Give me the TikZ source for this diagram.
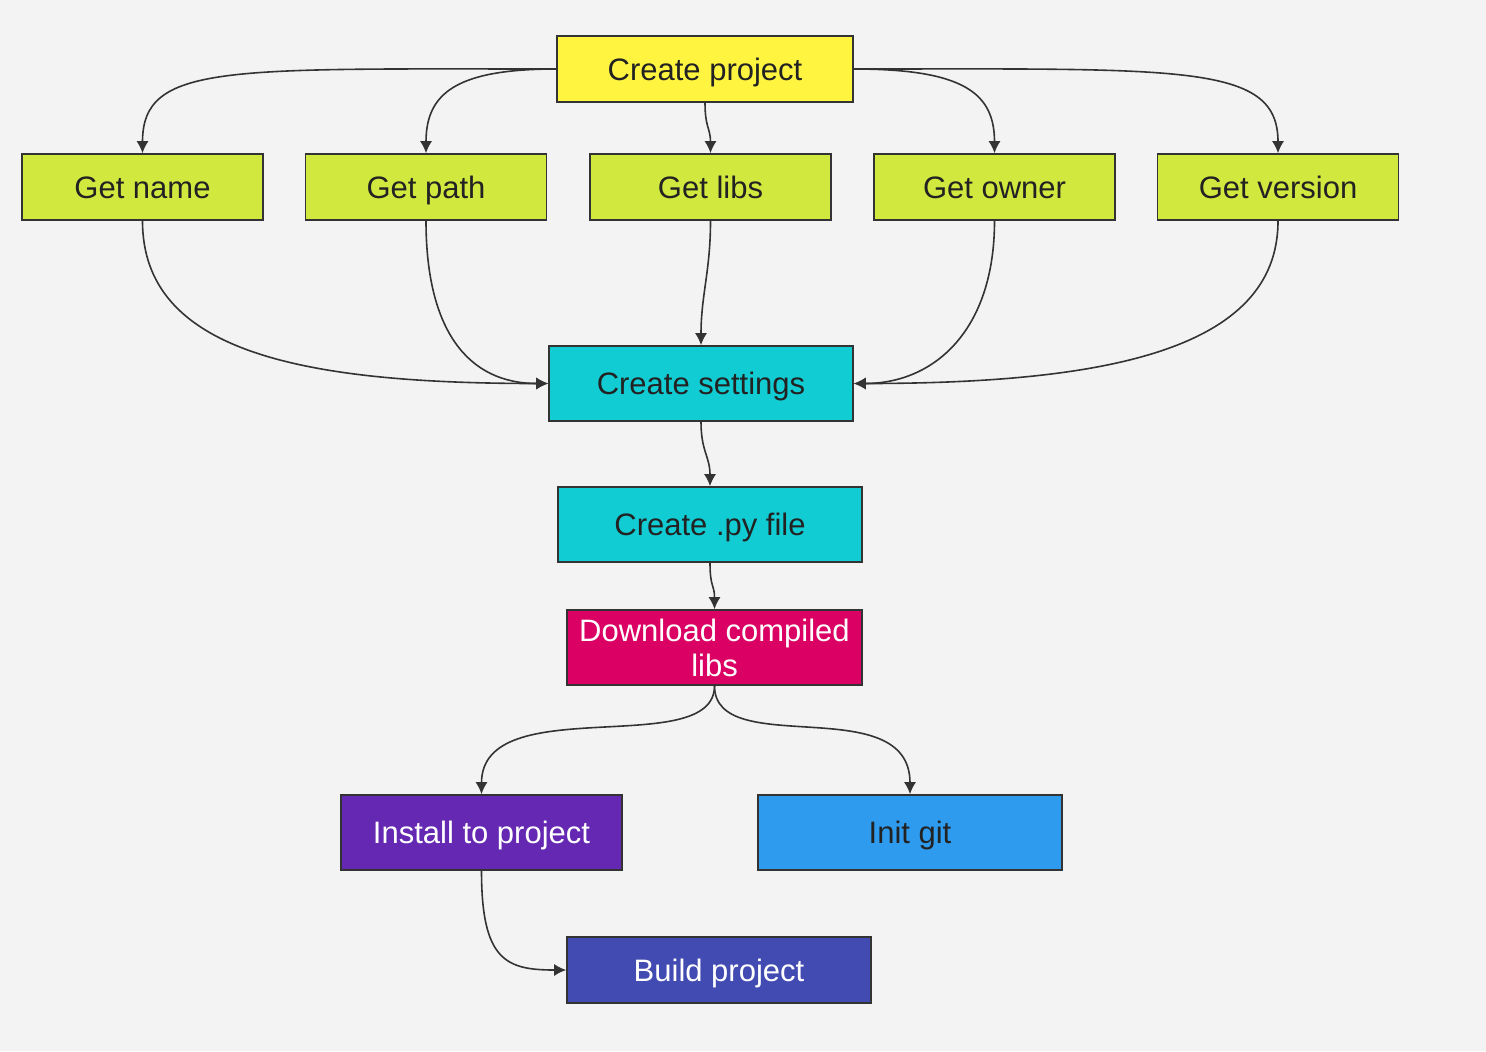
\documentclass[tikz,border=0pt]{standalone}
\usepackage{fontspec}
\setmainfont{Liberation Sans}
\usepackage{xcolor}
\usepackage{tikz}
\usetikzlibrary{arrows.meta}

\definecolor{bg}{HTML}{F3F3F3}
\definecolor{edge}{HTML}{333333}
\definecolor{ink}{HTML}{222222}
\definecolor{startyellow}{HTML}{FFF541}
\definecolor{getlime}{HTML}{D1E83F}
\definecolor{setcyan}{HTML}{12CCD3}
\definecolor{dlmagenta}{HTML}{DB0063}
\definecolor{instpurple}{HTML}{6528B2}
\definecolor{gitblue}{HTML}{2F9BEE}
\definecolor{buildindigo}{HTML}{424BB1}

\begin{document}
\begin{tikzpicture}[x=0.5pt, y=-0.5pt, >={Latex[length=6pt,width=6pt]},
    box/.style={draw=edge, line width=0.8pt, inner sep=0pt, text=ink,
      font=\fontsize{15.5}{17.5}\selectfont, align=center},
    oneline/.style={box, text height=11.2pt, text depth=0pt},
    getbox/.style={oneline, fill=getlime, minimum width=120.5pt, minimum height=33pt},
    widebox/.style={oneline, minimum width=152pt, minimum height=37.5pt},
    link/.style={->, draw=edge, line width=0.8pt}]
  \fill[bg] (0,0) rectangle (1486,1051);
  \useasboundingbox (0,0) rectangle (1486,1051);

  \node[oneline, fill=startyellow, minimum width=148pt, minimum height=33pt] (cp) at (705,69) {Create project};

  \node[getbox] (gn) at (142.5,187) {Get name};
  \node[getbox] (gp) at (426,187) {Get path};
  \node[getbox] (gl) at (710.5,187) {Get libs};
  \node[getbox] (go) at (994.5,187) {Get owner};
  \node[getbox] (gv) at (1278,187) {Get version};

  \node[widebox, fill=setcyan] (cs) at (701,383.5) {Create settings};
  \node[widebox, fill=setcyan] (pf) at (710,524.5) {Create .py file};
  \node[box, fill=dlmagenta, text=white, minimum width=147.5pt, minimum height=37.5pt] (dl) at (714.5,647.5) {Download compiled\\libs};
  \node[widebox, fill=instpurple, text=white, minimum width=140.5pt] (ip) at (481.5,832.5) {Install to project};
  \node[widebox, fill=gitblue] (ig) at (910,832.5) {Init git};
  \node[widebox, fill=buildindigo, text=white, minimum height=33pt] (bp) at (719,970) {Build project};

  % project -> getters
  \draw[link] (cp.west) .. controls +(-330,0) and +(0,-90) .. (gn.north);
  \draw[link] (cp.west) .. controls +(-100,0) and +(0,-60) .. (gp.north);
  \draw[link] (cp.south) .. controls +(0,25) and +(0,-25) .. (gl.north);
  \draw[link] (cp.east) .. controls +(110,0) and +(0,-60) .. (go.north);
  \draw[link] (cp.east) .. controls +(330,0) and +(0,-90) .. (gv.north);

  % getters -> settings
  \draw[link] (gn.south) .. controls +(0,130) and +(-250,0) .. (cs.west);
  \draw[link] (gp.south) .. controls +(0,110) and +(-80,0) .. (cs.west);
  \draw[link] (gl.south) .. controls +(0,50) and +(0,-50) .. (cs.north);
  \draw[link] (go.south) .. controls +(0,110) and +(80,0) .. (cs.east);
  \draw[link] (gv.south) .. controls +(0,130) and +(250,0) .. (cs.east);

  \draw[link] (cs.south) .. controls +(0,30) and +(0,-30) .. (pf.north);
  \draw[link] (pf.south) .. controls +(0,25) and +(0,-25) .. (dl.north);
  \draw[link] (dl.south) .. controls +(0,75) and +(0,-105) .. (ip.north);
  \draw[link] (dl.south) .. controls +(0,75) and +(0,-105) .. (ig.north);
  \draw[link] (ip.south) .. controls +(0,90) and +(-60,0) .. (bp.west);
\end{tikzpicture}
\end{document}
